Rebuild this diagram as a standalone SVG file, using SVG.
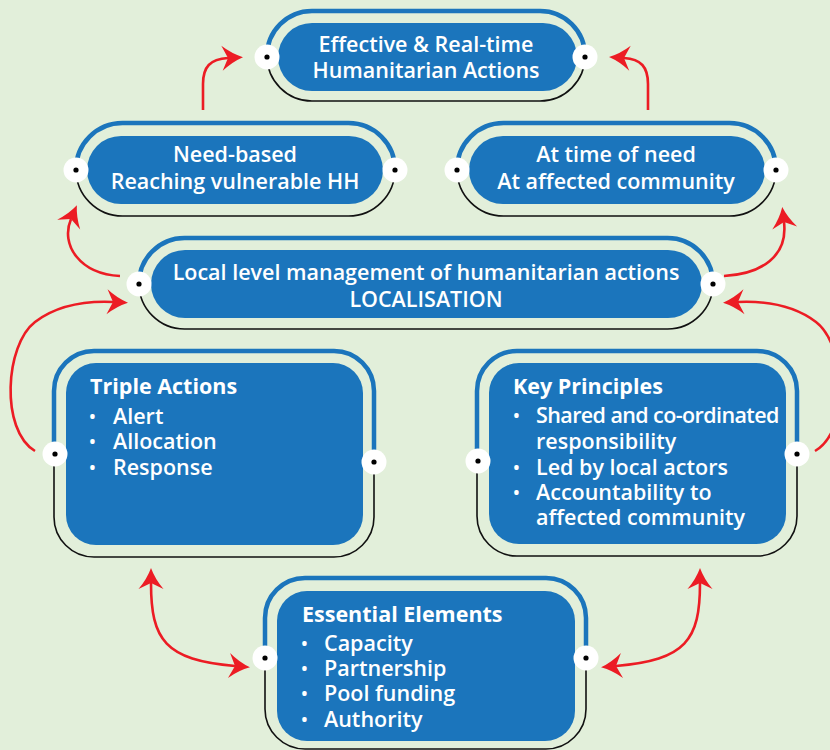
<svg xmlns="http://www.w3.org/2000/svg" width="830" height="750" viewBox="0 0 830 750">
<style>
.bg{fill:#e2efda}
.inner{fill:#1b75bc}
.top{fill:none;stroke:#1b75bc;stroke-width:4.5}
.bot{fill:none;stroke:#111;stroke-width:1.6}
.port{fill:#fff}
.dot{fill:#000}
.t{font-family:"Open Sans","Noto Sans",sans-serif;font-weight:600;font-size:21.5px;fill:#fff}
.h{font-weight:700}
.b{font-size:18px}
.c{text-anchor:middle}
.con{fill:none;stroke:#ec1c24;stroke-width:2.6}
</style>
<defs>
<marker id="ah" viewBox="-8 -14 26 28" refX="0" refY="0" markerWidth="26" markerHeight="28" markerUnits="userSpaceOnUse" orient="auto-start-reverse">
<path d="M15,0 Q4,-4 -6,-12.5 L0,0 L-6,12.5 Q4,4 15,0 Z" fill="#ec1c24"/>
</marker>
</defs>
<rect class="bg" x="0" y="0" width="830" height="750"/>

<g id="connectors">
<path class="con" d="M203,110 L203,84 C203,67 210,59 228,58" marker-end="url(#ah)"/>
<path class="con" d="M648,110 L648,84 C648,67 641,59 624,58" marker-end="url(#ah)"/>
<path class="con" d="M120,276 C80,274 60,245 71,219" marker-end="url(#ah)"/>
<path class="con" d="M724,276 C762,274 788,256 784,222" marker-end="url(#ah)"/>
<path class="con" d="M35,451 C0,430 5,345 35,322 C60,303 90,301 113,302" marker-end="url(#ah)"/>
<path class="con" d="M815,451 C851,430 846,345 816,322 C791,303 761,301 738,302" marker-end="url(#ah)"/>
<path class="con" d="M151,583 C151,640 165,660 235,666" marker-start="url(#ah)" marker-end="url(#ah)"/>
<path class="con" d="M700,583 C700,640 686,660 616,666" marker-start="url(#ah)" marker-end="url(#ah)"/>
</g>

<g id="node-effective">
<path class="top" d="M267,56 A45,45 0 0 1 312,11 H540 A45,45 0 0 1 585,56"/>
<path class="bot" d="M585,56 A45,45 0 0 1 540,101 H312 A45,45 0 0 1 267,56"/>
<rect class="inner" x="278" y="23" width="299" height="68" rx="34"/>
<circle class="port" cx="267" cy="57" r="12.5"/><circle class="dot" cx="267" cy="57" r="2.6"/>
<circle class="port" cx="585" cy="57" r="12.5"/><circle class="dot" cx="585" cy="57" r="2.6"/>
<text class="t c"><tspan x="426" y="52">Effective &amp; Real-time</tspan><tspan x="426" y="78">Humanitarian Actions</tspan></text>
</g>

<g id="node-need">
<path class="top" d="M76,169.5 A46.5,46.5 0 0 1 122.5,123 H348.5 A46.5,46.5 0 0 1 395,169.5"/>
<path class="bot" d="M395,169.5 A46.5,46.5 0 0 1 348.5,216 H122.5 A46.5,46.5 0 0 1 76,169.5"/>
<rect class="inner" x="87" y="136" width="296" height="68" rx="34"/>
<circle class="port" cx="76" cy="170" r="12.5"/><circle class="dot" cx="76" cy="170" r="2.6"/>
<circle class="port" cx="395" cy="170" r="12.5"/><circle class="dot" cx="395" cy="170" r="2.6"/>
<text class="t c"><tspan x="235" y="162">Need-based</tspan><tspan x="235" y="189">Reaching vulnerable HH</tspan></text>
</g>

<g id="node-time">
<path class="top" d="M457,169.5 A46.5,46.5 0 0 1 503.5,123 H729.5 A46.5,46.5 0 0 1 776,169.5"/>
<path class="bot" d="M776,169.5 A46.5,46.5 0 0 1 729.5,216 H503.5 A46.5,46.5 0 0 1 457,169.5"/>
<rect class="inner" x="469" y="136" width="296" height="68" rx="34"/>
<circle class="port" cx="457" cy="170" r="12.5"/><circle class="dot" cx="457" cy="170" r="2.6"/>
<circle class="port" cx="776" cy="170" r="12.5"/><circle class="dot" cx="776" cy="170" r="2.6"/>
<text class="t c"><tspan x="616" y="162">At time of need</tspan><tspan x="616" y="189">At affected community</tspan></text>
</g>

<g id="node-localisation">
<path class="top" d="M139,283.5 A45.5,45.5 0 0 1 184.5,238 H667.5 A45.5,45.5 0 0 1 713,283.5"/>
<path class="bot" d="M713,283.5 A45.5,45.5 0 0 1 667.5,329 H184.5 A45.5,45.5 0 0 1 139,283.5"/>
<rect class="inner" x="151" y="250" width="551" height="68" rx="34"/>
<circle class="port" cx="139" cy="284" r="12.5"/><circle class="dot" cx="139" cy="284" r="2.6"/>
<circle class="port" cx="713" cy="284" r="12.5"/><circle class="dot" cx="713" cy="284" r="2.6"/>
<text class="t c"><tspan x="426" y="280">Local level management of humanitarian actions</tspan><tspan x="426" y="307">LOCALISATION</tspan></text>
</g>

<g id="node-triple">
<path class="top" d="M54,454 V391 A40,40 0 0 1 94,351 H334 A40,40 0 0 1 374,391 V462"/>
<path class="bot" d="M374,462 V517 A40,40 0 0 1 334,557 H94 A40,40 0 0 1 54,517 V454"/>
<rect class="inner" x="66" y="363" width="297" height="182" rx="30"/>
<circle class="port" cx="55" cy="454" r="12.5"/><circle class="dot" cx="55" cy="454" r="2.6"/>
<circle class="port" cx="374" cy="462" r="12.5"/><circle class="dot" cx="374" cy="462" r="2.6"/>
<text class="t"><tspan class="h" x="90" y="394">Triple Actions</tspan><tspan class="b" x="89" y="423">•</tspan><tspan x="113" y="424">Alert</tspan><tspan class="b" x="89" y="448">•</tspan><tspan x="113" y="449">Allocation</tspan><tspan class="b" x="89" y="474">•</tspan><tspan x="113" y="475">Response</tspan></text>
</g>

<g id="node-key">
<path class="top" d="M477,461 V391 A40,40 0 0 1 517,351 H757 A40,40 0 0 1 797,391 V454"/>
<path class="bot" d="M797,454 V516 A40,40 0 0 1 757,556 H517 A40,40 0 0 1 477,516 V461"/>
<rect class="inner" x="489" y="363" width="297" height="181" rx="30"/>
<circle class="port" cx="478" cy="461" r="12.5"/><circle class="dot" cx="478" cy="461" r="2.6"/>
<circle class="port" cx="797" cy="454" r="12.5"/><circle class="dot" cx="797" cy="454" r="2.6"/>
<text class="t"><tspan class="h" x="513" y="394">Key Principles</tspan><tspan class="b" x="513" y="422">•</tspan><tspan x="536" y="423" letter-spacing="-0.6">Shared and co-ordinated</tspan><tspan x="536" y="449">responsibility</tspan><tspan class="b" x="513" y="474">•</tspan><tspan x="536" y="475">Led by local actors</tspan><tspan class="b" x="513" y="499">•</tspan><tspan x="536" y="500">Accountability to</tspan><tspan x="536" y="525">affected community</tspan></text>
</g>

<g id="node-essential">
<path class="top" d="M265,658 V618 A40,40 0 0 1 305,578 H546 A40,40 0 0 1 586,618 V658"/>
<path class="bot" d="M586,658 V709 A40,40 0 0 1 546,749 H305 A40,40 0 0 1 265,709 V658"/>
<rect class="inner" x="277" y="591" width="298" height="150" rx="30"/>
<circle class="port" cx="265" cy="658" r="12.5"/><circle class="dot" cx="265" cy="658" r="2.6"/>
<circle class="port" cx="586" cy="658" r="12.5"/><circle class="dot" cx="586" cy="658" r="2.6"/>
<text class="t"><tspan class="h" x="302" y="622">Essential Elements</tspan><tspan class="b" x="301" y="650">•</tspan><tspan x="324" y="651">Capacity</tspan><tspan class="b" x="301" y="675">•</tspan><tspan x="324" y="676">Partnership</tspan><tspan class="b" x="301" y="700">•</tspan><tspan x="324" y="701">Pool funding</tspan><tspan class="b" x="301" y="726">•</tspan><tspan x="324" y="727">Authority</tspan></text>
</g>
</svg>
